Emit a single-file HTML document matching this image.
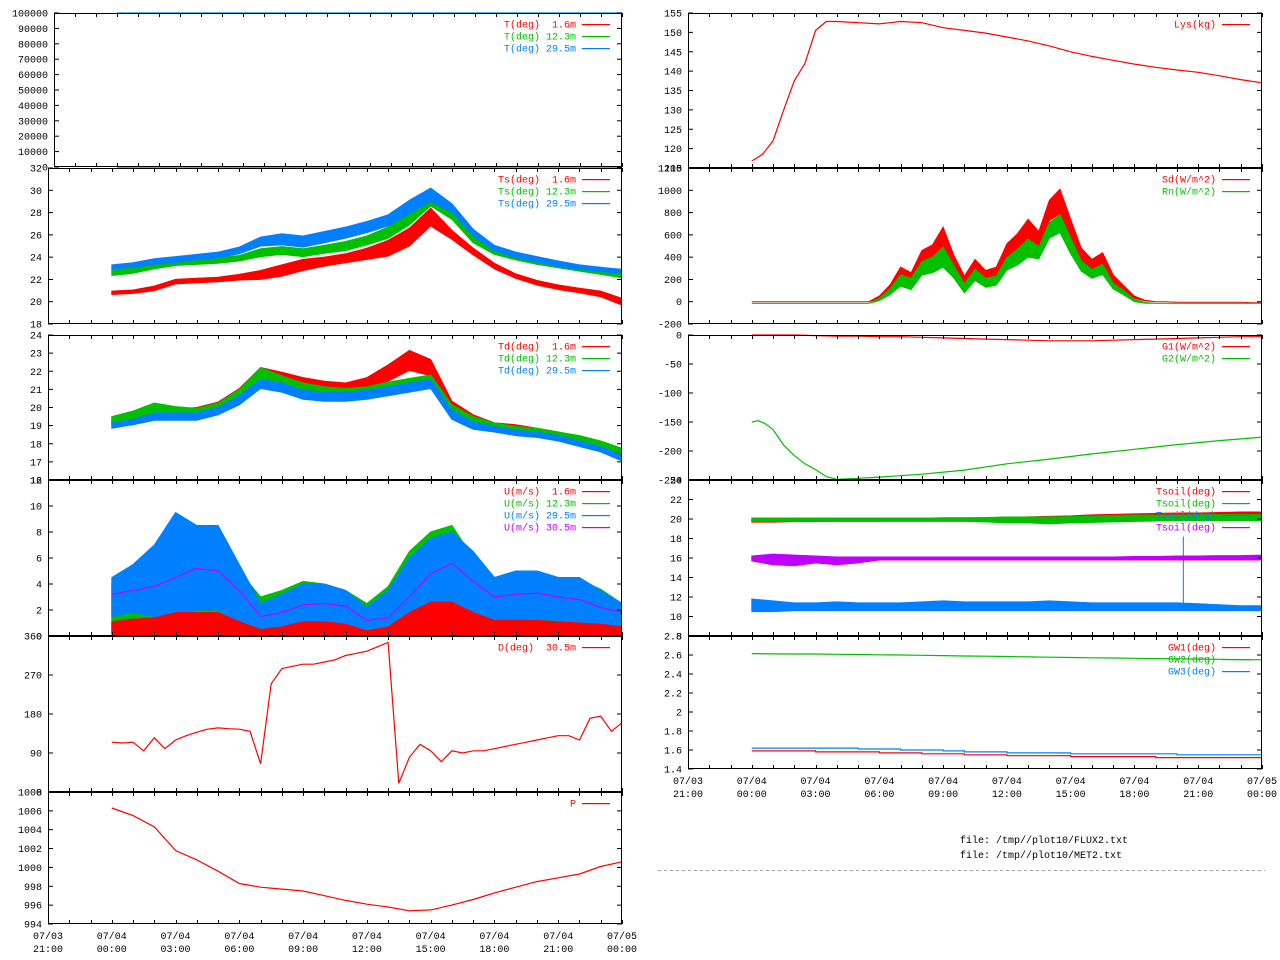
<!DOCTYPE html>
<html><head><meta charset="utf-8"><style>
html,body{margin:0;padding:0;background:#fff;}
svg{display:block;font-family:"Liberation Mono","DejaVu Sans Mono",monospace;font-size:10px;}
text{white-space:pre;}
</style></head><body>
<svg id="chart" width="1280" height="960" viewBox="0 0 1280 960" xmlns="http://www.w3.org/2000/svg"></svg>
<script>
// ---- data (hours since 07/04 00:00) ----
const HOURS=[0,1,2,3,4,5,6,7,8,9,10,11,12,13,14,15,16,17,18,19,20,21,22,23,24];
const HALF=[0,0.5,1,1.5,2,2.5,3,3.5,4,4.5,5,5.5,6,6.5,7,7.5,8,8.5,9,9.5,10,10.5,11,11.5,12,12.5,13,13.5,14,14.5,15,15.5,16,16.5,17,17.5,18,18.5,19,19.5,20,20.5,21,21.5,22,22.5,23,23.5,24];
const X_LABEL_TOP=["07/03","07/04","07/04","07/04","07/04","07/04","07/04","07/04","07/04","07/05"];
const X_LABEL_BOT=["21:00","00:00","03:00","06:00","09:00","12:00","15:00","18:00","21:00","00:00"];

const T_TIMES=[0,24];
const T_RED=[0,0];
const T_GRN=[0,0];
const T_BLU=[100000,100000];

const TS_RED=[20.8,20.9,21.2,21.8,21.9,22.0,22.2,22.4,22.8,23.3,23.6,23.9,24.3,24.8,25.8,27.6,26.0,24.5,23.2,22.3,21.7,21.3,21.0,20.7,20.0];
const TS_RED_AMP=[0.15,0.15,0.2,0.2,0.2,0.2,0.25,0.4,0.5,0.5,0.4,0.4,0.5,0.7,0.8,0.8,0.4,0.3,0.25,0.2,0.2,0.2,0.2,0.25,0.3];
const TS_GRN=[22.6,22.8,23.2,23.5,23.6,23.7,23.9,24.4,24.6,24.4,24.7,25.0,25.5,26.2,27.5,29.2,27.8,25.6,24.5,24.0,23.6,23.3,23.0,22.7,22.4];
const TS_GRN_AMP=[0.25,0.25,0.25,0.25,0.25,0.25,0.25,0.35,0.35,0.35,0.35,0.4,0.4,0.5,0.6,0.6,0.4,0.3,0.25,0.25,0.25,0.25,0.25,0.25,0.25];
const TS_BLU=[23.1,23.3,23.6,23.8,24.0,24.2,24.6,25.4,25.6,25.4,25.8,26.2,26.7,27.3,28.5,29.6,28.4,26.2,24.8,24.2,23.8,23.4,23.1,22.9,22.7];
const TS_BLU_AMP=[0.2,0.2,0.25,0.25,0.25,0.25,0.3,0.4,0.5,0.5,0.5,0.5,0.5,0.5,0.6,0.6,0.4,0.3,0.25,0.25,0.25,0.25,0.2,0.2,0.2];

const TD_RED=[19.3,19.5,19.8,19.7,19.8,20.1,20.8,21.9,21.7,21.4,21.2,21.1,21.3,21.9,22.6,22.2,20.1,19.4,19.0,18.9,18.7,18.5,18.2,17.9,17.5];
const TD_RED_AMP=[0.15,0.15,0.2,0.2,0.2,0.2,0.25,0.3,0.25,0.25,0.25,0.25,0.35,0.45,0.55,0.45,0.25,0.2,0.15,0.15,0.15,0.15,0.15,0.15,0.15];
const TD_GRN=[19.3,19.6,20.0,19.8,19.7,20.0,20.7,21.9,21.5,21.1,20.9,20.8,20.9,21.1,21.3,21.5,19.9,19.3,19.0,18.8,18.7,18.5,18.3,18.0,17.6];
const TD_GRN_AMP=[0.2,0.2,0.25,0.25,0.25,0.25,0.3,0.3,0.25,0.25,0.25,0.25,0.25,0.3,0.3,0.3,0.25,0.2,0.15,0.15,0.15,0.15,0.15,0.15,0.15];
const TD_BLU=[19.0,19.2,19.5,19.5,19.5,19.8,20.4,21.3,21.1,20.7,20.6,20.6,20.7,20.9,21.1,21.3,19.6,19.0,18.8,18.6,18.5,18.3,18.0,17.7,17.2];
const TD_BLU_AMP=[0.15,0.15,0.2,0.2,0.2,0.2,0.25,0.25,0.25,0.25,0.25,0.25,0.25,0.25,0.25,0.25,0.25,0.2,0.15,0.15,0.15,0.15,0.15,0.15,0.15];

const U_GRN_LO=[0.3,0.3,0.3,0.3,0.4,0.4,0.2,0.1,0.1,0.2,0.2,0.2,0.1,0.1,0.3,0.5,0.5,0.3,0.2,0.2,0.2,0.2,0.2,0.2,0.1];
const U_GRN_HI=[4,5,6,8,7,7.5,5,3,3.5,4.2,4,3.5,2.5,3.8,6.5,8,8.5,6,4.5,4.8,5,4.5,4.3,3.6,2.5];
const U_BLU_LO=[1.5,1.8,1.5,1.5,2,2,1,0.3,0.5,1,1,0.8,0.3,0.5,1.5,2.5,2.5,1.5,1,1.2,1.3,1.2,1,0.8,0.6];
const U_BLU_HI=[4.5,5.5,7,9.5,8.5,8.5,5.5,2.5,3.2,4,4,3.5,2.2,3.5,6,7.5,8,6.5,4.5,5,5,4.5,4.5,3.5,2.5];
const U_RED_LO=[0,0,0,0,0,0,0,0,0,0,0,0,0,0,0,0,0,0,0,0,0,0,0,0,0];
const U_RED_HI=[1.1,1.3,1.4,1.8,1.8,1.8,1.1,0.5,0.7,1.1,1.1,0.9,0.4,0.7,1.8,2.6,2.6,1.8,1.2,1.2,1.2,1.1,1.0,0.9,0.7];
const U_MAG=[3.2,3.5,3.8,4.5,5.2,5.0,3.5,1.5,1.8,2.4,2.5,2.3,1.2,1.4,3.0,4.8,5.6,4.2,3.0,3.2,3.3,3.0,2.8,2.2,1.8];

const D_RED=[115,113,115,95,125,100,120,130,138,145,148,146,145,140,65,250,285,290,295,295,300,305,315,320,325,335,345,20,80,110,95,70,95,90,95,95,100,105,110,115,120,125,130,130,120,170,175,140,160];

const P_RED=[1006.3,1005.5,1004.3,1001.8,1000.8,999.6,998.3,997.9,997.7,997.5,997.0,996.5,996.1,995.8,995.4,995.5,996.0,996.6,997.3,997.9,998.5,998.9,999.3,1000.1,1000.6];

const LYS_TIMES=[0,0.5,1,1.5,2,2.5,3,3.5,4,5,6,7,8,9,10,11,12,13,14,15,16,17,18,19,20,21,22,23,24];
const LYS=[116.8,118.5,122,130,137.5,142,150.5,152.8,152.8,152.5,152.2,152.8,152.5,151.2,150.5,149.8,148.8,147.8,146.5,145.0,143.8,142.8,141.8,141.0,140.3,139.7,138.8,137.8,137.0];

const SD=[0,0,0,0,0,0,0,0,0,0,0,0,40,120,250,200,380,420,520,350,180,320,230,260,450,520,620,560,820,900,650,420,330,380,200,120,40,10,0,0,-5,-5,-5,-5,-5,-5,-5,-10,-10];
const SD_AMP=[0,0,0,0,0,0,0,0,0,0,0,0,10,30,60,60,80,90,150,70,50,60,50,50,70,90,120,70,90,110,90,60,50,60,40,25,10,3,0,0,0,0,0,0,0,0,0,0,0];
const RN=[-15,-15,-15,-15,-15,-15,-15,-15,-15,-15,-15,-15,20,90,190,160,300,330,400,270,120,240,170,190,340,400,480,440,640,700,500,320,250,290,140,80,10,-10,-15,-15,-15,-15,-15,-15,-15,-15,-15,-15,-15];
const RN_AMP=[0,0,0,0,0,0,0,0,0,0,0,0,10,25,50,50,60,70,90,55,40,50,40,40,55,70,80,55,70,80,70,45,40,45,25,20,10,3,0,0,0,0,0,0,0,0,0,0,0];

const G1=[0,0,0,-1,-2,-2,-3,-3,-4,-5,-6,-7,-8,-9,-10,-10,-10,-9,-8,-7,-6,-5,-4,-3,-3];
const G2_TIMES=[0,0.3,0.6,1,1.5,2,2.5,3,3.5,4,5,6,8,10,12,14,16,18,20,22,24];
const G2=[-150,-148,-152,-163,-190,-208,-222,-232,-244,-249,-247,-245,-240,-233,-222,-214,-205,-197,-189,-182,-176];

const TSOIL_RED=[19.8,19.8,19.85,19.85,19.9,19.9,19.9,19.95,19.95,20.0,20.0,20.0,20.05,20.1,20.15,20.2,20.3,20.35,20.4,20.45,20.5,20.5,20.55,20.6,20.6];
const TSOIL_GRN_LO=[19.75,19.75,19.75,19.75,19.75,19.75,19.75,19.75,19.75,19.75,19.75,19.7,19.6,19.6,19.5,19.6,19.65,19.7,19.75,19.8,19.85,19.85,19.85,19.85,19.85];
const TSOIL_GRN_HI=[20.1,20.1,20.1,20.1,20.1,20.1,20.1,20.1,20.1,20.1,20.1,20.15,20.2,20.2,20.2,20.25,20.3,20.35,20.4,20.4,20.4,20.45,20.45,20.45,20.45];
const TSOIL_MAG_LO=[15.7,15.3,15.2,15.5,15.3,15.5,15.8,15.8,15.8,15.8,15.8,15.8,15.8,15.8,15.8,15.8,15.8,15.8,15.8,15.8,15.8,15.8,15.8,15.8,15.8];
const TSOIL_MAG_HI=[16.2,16.4,16.3,16.2,16.1,16.1,16.1,16.1,16.1,16.1,16.1,16.1,16.1,16.1,16.1,16.1,16.1,16.1,16.15,16.15,16.2,16.2,16.25,16.25,16.3];
const TSOIL_BLU_LO=[10.5,10.5,10.6,10.6,10.6,10.6,10.6,10.6,10.6,10.6,10.6,10.6,10.6,10.6,10.6,10.6,10.6,10.6,10.6,10.6,10.6,10.6,10.6,10.6,10.6];
const TSOIL_BLU_HI=[11.8,11.6,11.4,11.4,11.5,11.4,11.4,11.4,11.5,11.6,11.5,11.5,11.5,11.5,11.6,11.5,11.4,11.4,11.4,11.4,11.4,11.3,11.2,11.1,11.1];
const TSOIL_SPIKE_T=[20.3];
const TSOIL_SPIKE_V=[18.2];

const GW1=[1.59,1.59,1.59,1.58,1.58,1.58,1.57,1.57,1.56,1.56,1.55,1.55,1.54,1.54,1.54,1.53,1.53,1.53,1.53,1.52,1.52,1.52,1.52,1.52,1.52];
const GW2=[2.615,2.612,2.61,2.61,2.607,2.605,2.602,2.6,2.597,2.594,2.59,2.587,2.584,2.58,2.577,2.574,2.571,2.568,2.565,2.562,2.56,2.557,2.555,2.552,2.55];
const GW3=[1.62,1.62,1.62,1.62,1.62,1.61,1.61,1.60,1.60,1.59,1.58,1.58,1.57,1.57,1.57,1.56,1.56,1.56,1.56,1.56,1.55,1.55,1.55,1.55,1.55];

// ---- rendering ----
const NS="http://www.w3.org/2000/svg";
const svg=document.getElementById('chart');
const RED="#ff0000",GRN="#00c000",BLU="#0080ff",MAG="#c000ff";
function mk(tag,attrs,parent){const e=document.createElementNS(NS,tag);for(const k in attrs)e.setAttribute(k,attrs[k]);(parent||svg).appendChild(e);return e;}
function xs(p,t){return p.x0+(t+3)/27*(p.x1-p.x0);}
function ys(p,v){return p.y1-(v-p.min)/(p.max-p.min)*(p.y1-p.y0);}
function fmt(v){return String(Number(v.toFixed(2)));}

function panel(p,name,showX){
  const g=mk('g',{});
  
  
  p.g=g;
  const clip=mk('clipPath',{id:'clip-'+name},g);
  mk('rect',{x:p.x0,y:p.y0-1,width:p.x1-p.x0,height:p.y1-p.y0+2},clip);
  p.dg=mk('g',{'clip-path':'url(#clip-'+name+')'},g);
  p.lg=mk('g',{},g);
  for(let v=p.min;v<=p.max+1e-9;v+=p.step){
    const y=ys(p,v);
    const t=mk('text',{x:p.x0-6,y:y+3.5,'text-anchor':'end',fill:'#000'},g);
    t.textContent=fmt(v);
    
    
    mk('line',{x1:p.x0,x2:p.x0+5,y1:y,y2:y,stroke:'#000'},g);
    mk('line',{x1:p.x1-5,x2:p.x1,y1:y,y2:y,stroke:'#000'},g);
  }
  for(let h=-3;h<=24;h++){
    const x=Math.round(xs(p,h))+0.5;
    mk('line',{x1:x,x2:x,y1:p.y1,y2:p.y1-4,stroke:'#000'},g);
    mk('line',{x1:x,x2:x,y1:p.y0,y2:p.y0+4,stroke:'#000'},g);
  }
  if(showX){
    for(let i=0;i<X_LABEL_TOP.length;i++){
      const x=xs(p,-3+i*3);
      const a=mk('text',{x:x,y:p.y1+15,'text-anchor':'middle',fill:'#000'},g);
      a.textContent=X_LABEL_TOP[i];
      
      
      const b=mk('text',{x:x,y:p.y1+28,'text-anchor':'middle',fill:'#000'},g);
      b.textContent=X_LABEL_BOT[i];
      
      
    }
  }
  p.legendRow=0;
}
function border(p){
  const r=mk('rect',{x:p.x0+0.5,y:p.y0+0.5,width:p.x1-p.x0-1,height:p.y1-p.y0-1,fill:'none',stroke:'#000'},p.g);
  
  
}
function legend(p,label,color){
  const y=p.y0+11+p.legendRow*12;
  const t=mk('text',{x:p.x1-46,y:y+3.5,'text-anchor':'end',fill:color},p.lg);
  t.textContent=label;
  
  
  const l=mk('rect',{x:p.x1-40,width:28,y:y,height:1.2,fill:color},p.lg);
  
  
  p.legendRow++;
}
function line(p,times,vals,color,name){
  const pts=times.map((t,i)=>xs(p,t).toFixed(1)+','+ys(p,vals[i]).toFixed(1)).join(' ');
  const e=mk('polyline',{points:pts,fill:'none',stroke:color,'stroke-width':1.2},p.dg);
  
  
}
function bandLH(p,times,lo,hi,color,name){
  const a=times.map((t,i)=>xs(p,t).toFixed(1)+','+ys(p,hi[i]).toFixed(1));
  const b=times.map((t,i)=>xs(p,t).toFixed(1)+','+ys(p,lo[i]).toFixed(1)).reverse();
  const e=mk('polygon',{points:a.concat(b).join(' '),fill:color,stroke:color,'stroke-width':1},p.dg);
  
  
}
function band(p,times,mean,amp,color,name){
  bandLH(p,times,mean.map((m,i)=>m-amp[i]),mean.map((m,i)=>m+amp[i]),color,name);
}

const PT={x0:54,x1:622,y0:13,y1:167,min:0,max:100000,step:10000};
const PTs={x0:48,x1:622,y0:168,y1:324,min:18,max:32,step:2};
const PTd={x0:48,x1:622,y0:335,y1:480,min:16,max:24,step:1};
const PU={x0:48,x1:622,y0:480,y1:636,min:0,max:12,step:2};
const PD={x0:48,x1:622,y0:636,y1:792,min:0,max:360,step:90};
const PP={x0:48,x1:622,y0:792,y1:924,min:994,max:1008,step:2};
const R1={x0:688,x1:1262,y0:13,y1:168,min:115,max:155,step:5};
const R2={x0:688,x1:1262,y0:168,y1:324,min:-200,max:1200,step:200};
const R3={x0:688,x1:1262,y0:335,y1:480,min:-250,max:0,step:50};
const R4={x0:688,x1:1262,y0:480,y1:636,min:8,max:24,step:2};
const R5={x0:688,x1:1262,y0:636,y1:769,min:1.4,max:2.8,step:0.2};

// T
panel(PT,'temperature',false);
legend(PT,'T(deg)  1.6m',RED);legend(PT,'T(deg) 12.3m',GRN);legend(PT,'T(deg) 29.5m',BLU);
line(PT,T_TIMES,T_RED,RED,'t-1.6m-line');line(PT,T_TIMES,T_GRN,GRN,'t-12.3m-line');
border(PT);
line(PT,T_TIMES,T_BLU,BLU,'t-29.5m-line');
// Ts
panel(PTs,'sonic-temperature',false);
legend(PTs,'Ts(deg)  1.6m',RED);legend(PTs,'Ts(deg) 12.3m',GRN);legend(PTs,'Ts(deg) 29.5m',BLU);
band(PTs,HOURS,TS_RED,TS_RED_AMP,RED,'ts-1.6m-band');band(PTs,HOURS,TS_GRN,TS_GRN_AMP,GRN,'ts-12.3m-band');band(PTs,HOURS,TS_BLU,TS_BLU_AMP,BLU,'ts-29.5m-band');
border(PTs);
// Td
panel(PTd,'dewpoint',false);
legend(PTd,'Td(deg)  1.6m',RED);legend(PTd,'Td(deg) 12.3m',GRN);legend(PTd,'Td(deg) 29.5m',BLU);
band(PTd,HOURS,TD_RED,TD_RED_AMP,RED,'td-1.6m-band');band(PTd,HOURS,TD_GRN,TD_GRN_AMP,GRN,'td-12.3m-band');band(PTd,HOURS,TD_BLU,TD_BLU_AMP,BLU,'td-29.5m-band');
border(PTd);
// U
panel(PU,'wind-speed',false);
legend(PU,'U(m/s)  1.6m',RED);legend(PU,'U(m/s) 12.3m',GRN);legend(PU,'U(m/s) 29.5m',BLU);legend(PU,'U(m/s) 30.5m',MAG);
bandLH(PU,HOURS,U_GRN_LO,U_GRN_HI,GRN,'u-12.3m-band');bandLH(PU,HOURS,U_BLU_LO,U_BLU_HI,BLU,'u-29.5m-band');bandLH(PU,HOURS,U_RED_LO,U_RED_HI,RED,'u-1.6m-band');
line(PU,HOURS,U_MAG,MAG,'u-30.5m-line');
border(PU);
// D
panel(PD,'wind-direction',false);
legend(PD,'D(deg)  30.5m',RED);
line(PD,HALF,D_RED,RED,'d-30.5m-line');
border(PD);
// P
panel(PP,'pressure',true);
legend(PP,'P',RED);
line(PP,HOURS,P_RED,RED,'pressure-line');
border(PP);
// Lys
panel(R1,'lysimeter',false);
legend(R1,'Lys(kg)',RED);
line(R1,LYS_TIMES,LYS,RED,'lys-line');
border(R1);
// Radiation
panel(R2,'radiation',false);
legend(R2,'Sd(W/m^2)',RED);legend(R2,'Rn(W/m^2)',GRN);
band(R2,HALF,SD,SD_AMP,RED,'sd-band');band(R2,HALF,RN,RN_AMP,GRN,'rn-band');
border(R2);
// Ground heat
panel(R3,'ground-heat-flux',false);
legend(R3,'G1(W/m^2)',RED);legend(R3,'G2(W/m^2)',GRN);
line(R3,HOURS,G1,RED,'g1-line');line(R3,G2_TIMES,G2,GRN,'g2-line');
border(R3);
// Tsoil
panel(R4,'soil-temperature',false);
legend(R4,'Tsoil(deg)',RED);legend(R4,'Tsoil(deg)',GRN);legend(R4,'Tsoil(deg)',BLU);legend(R4,'Tsoil(deg)',MAG);
band(R4,HOURS,TSOIL_RED,HOURS.map(()=>0.12),RED,'tsoil-1-band');
bandLH(R4,HOURS,TSOIL_GRN_LO,TSOIL_GRN_HI,GRN,'tsoil-2-band');
bandLH(R4,HOURS,TSOIL_BLU_LO,TSOIL_BLU_HI,BLU,'tsoil-3-band');
for(let i=0;i<TSOIL_SPIKE_T.length;i++){
  const s=mk('line',{x1:xs(R4,TSOIL_SPIKE_T[i]),x2:xs(R4,TSOIL_SPIKE_T[i]),y1:ys(R4,11),y2:ys(R4,TSOIL_SPIKE_V[i]),stroke:BLU},R4.dg);
  
  
}
bandLH(R4,HOURS,TSOIL_MAG_LO,TSOIL_MAG_HI,MAG,'tsoil-4-band');
border(R4);
// GW
panel(R5,'groundwater',true);
legend(R5,'GW1(deg)',RED);legend(R5,'GW2(deg)',GRN);legend(R5,'GW3(deg)',BLU);
function step(p,vals,color,name){
  const t=[],v=[];
  for(let i=0;i<HOURS.length;i++){t.push(HOURS[i]);v.push(vals[i]);if(i<HOURS.length-1){t.push(HOURS[i+1]);v.push(vals[i]);}}
  line(p,t,v,color,name);
}
step(R5,GW1,RED,'gw1-line');line(R5,HOURS,GW2,GRN,'gw2-line');step(R5,GW3,BLU,'gw3-line');
border(R5);

// footer
const f1=mk('text',{x:960,y:843,fill:'#000'});f1.textContent='file: /tmp//plot10/FLUX2.txt';


const f2=mk('text',{x:960,y:858,fill:'#000'});f2.textContent='file: /tmp//plot10/MET2.txt';


const hr=mk('line',{x1:658,x2:1265,y1:870.5,y2:870.5,stroke:'#a0a0a0','stroke-dasharray':'3,3'});


</script>
</body></html>
